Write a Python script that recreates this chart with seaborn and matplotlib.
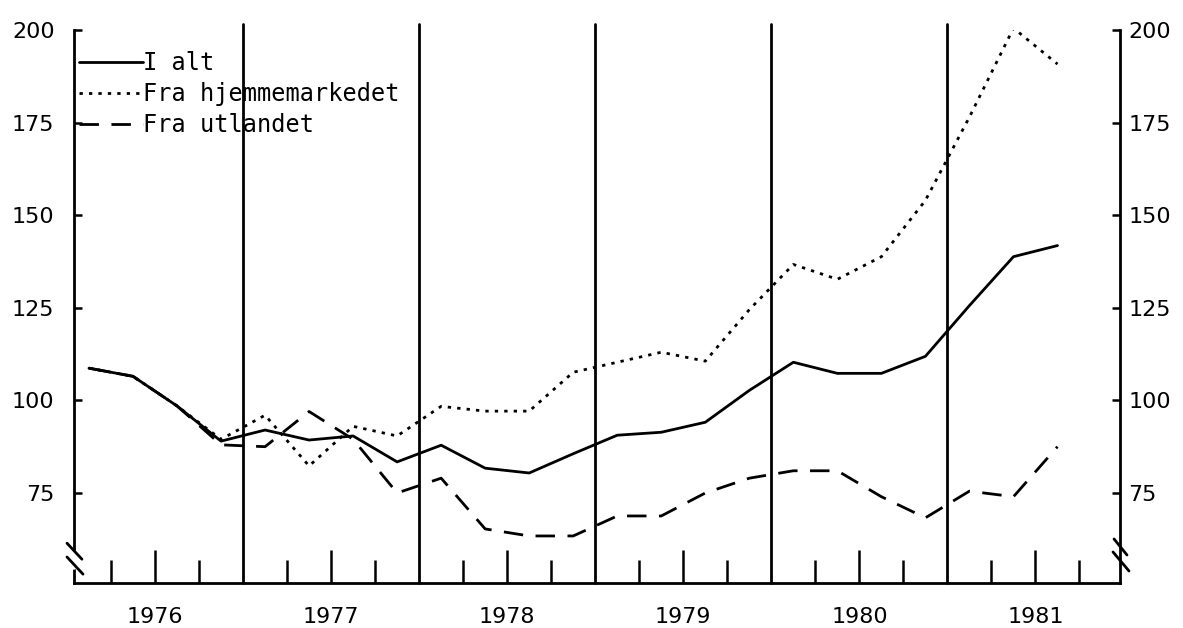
import numpy as np
import pandas as pd
import matplotlib
matplotlib.use("Agg")
import matplotlib.pyplot as plt
import seaborn as sns

# ------------------------------------------------------------
# DATA  (quarterly index, 1976 K1 - 1981 K3)
# ------------------------------------------------------------
quarters = pd.period_range("1976Q1", "1981Q3", freq="Q")

i_alt = [108.7, 106.5, 98.5, 89.0, 92.0, 89.3, 90.4, 83.4, 87.9, 81.7, 80.4, 85.6,
         90.6, 91.4, 94.1, 102.7, 110.3, 107.3, 107.3, 111.9, 125.6, 138.8, 141.8]
hjemme = [108.7, 106.5, 98.5, 89.5, 96.0, 82.3, 93.0, 90.4, 98.4, 97.1, 97.1, 107.6,
          110.3, 113.0, 110.6, 124.5, 136.7, 132.7, 138.8, 154.0, 176.5, 200.5, 190.8]
utland = [108.7, 106.5, 98.5, 88.0, 87.5, 97.0, 89.5, 75.0, 79.0, 65.3, 63.4, 63.4,
          68.8, 68.8, 75.0, 79.0, 81.0, 81.0, 74.0, 68.3, 75.5, 74.0, 87.5]

series_names = ["I alt", "Fra hjemmemarkedet", "Fra utlandet"]
year_labels = ["1976", "1977", "1978", "1979", "1980", "1981"]
y_ticks = [75, 100, 125, 150, 175, 200]

# quarter mid points on a year axis
x = quarters.year + (quarters.quarter - 0.5) / 4
df = pd.DataFrame({"x": x, "I alt": i_alt,
                   "Fra hjemmemarkedet": hjemme, "Fra utlandet": utland})

# ------------------------------------------------------------
# PLOT
# ------------------------------------------------------------
sns.set_style("ticks")
plt.rcParams["font.family"] = ["DejaVu Sans"]
plt.rcParams["text.color"] = "black"
plt.rcParams["xtick.color"] = "black"
plt.rcParams["ytick.color"] = "black"
plt.rcParams["axes.edgecolor"] = "black"

fig = plt.figure(figsize=(11.83, 6.28), dpi=100)
ax = fig.add_axes([74 / 1183, 1 - 583 / 628, 1046 / 1183, 553 / 628])

styles = {
    "I alt": "-",
    "Fra hjemmemarkedet": (0, (1.2, 2.2)),
    "Fra utlandet": (0, (7, 4.5)),
}
for name in series_names:
    sns.lineplot(data=df, x="x", y=name, ax=ax, color="black", lw=2.0,
                 linestyle=styles[name], label=name)

years = [int(y) for y in year_labels]
ax.set_xlim(1976.04, 1981.98)
ax.set_ylim(50.7, 200)

# full height lines at year boundaries
for yr in years[1:]:
    ax.axvline(yr, color="black", lw=2.0, ymax=1.01, clip_on=False)

ax.set_xticks([yr + 0.5 for yr in years])
ax.set_xticklabels(year_labels)
ax.set_xticks([yr + q for yr in years for q in (0.25, 0.75)], minor=True)
ax.tick_params(axis="x", which="major", direction="in", length=24, width=1.8,
               pad=17, labelsize=16)
ax.tick_params(axis="x", which="minor", direction="in", length=16.5, width=1.8)

ax.set_yticks(y_ticks)
ax.tick_params(axis="y", direction="in", length=6, width=1.8, pad=14, labelsize=16)
ax.set_xlabel("")
ax.set_ylabel("")

ax2 = ax.twinx()
ax2.set_ylim(ax.get_ylim())
ax2.set_yticks(y_ticks)
ax2.tick_params(axis="y", direction="in", length=6, width=1.8, pad=6, labelsize=16)

for a in (ax, ax2):
    for s in a.spines.values():
        s.set_linewidth(2.0)
ax.spines["top"].set_visible(False)
ax.spines["right"].set_visible(False)
for s in ("top", "left", "bottom"):
    ax2.spines[s].set_visible(False)

# axis break marks
def axis_break(x0, gap, upper, lower):
    ax.plot([x0, x0], gap, color="white", lw=4, transform=ax.transAxes,
            clip_on=False, zorder=5)
    for xs, ys in (upper, lower):
        ax.plot(xs, ys, color="black", lw=2.0, transform=ax.transAxes,
                clip_on=False, zorder=6)

axis_break(0.0, [0.029, 0.054],
           ([-0.0067, 0.0076], [0.072, 0.043]),
           ([-0.0067, 0.0086], [0.047, 0.016]))
axis_break(1.0, [0.042, 0.063],
           ([0.9943, 1.0067], [0.0796, 0.0506]),
           ([0.9933, 1.0086], [0.0561, 0.0217]))

handles, labels = ax.get_legend_handles_labels()
ax.legend(handles, labels, loc="upper left", bbox_to_anchor=(0.005, 0.962),
          frameon=False, borderaxespad=0, borderpad=0, handlelength=2.7,
          handletextpad=0.0, labelspacing=0.3,
          prop={"family": "DejaVu Sans Mono", "size": 17})

fig.savefig("out.png", dpi=100)
